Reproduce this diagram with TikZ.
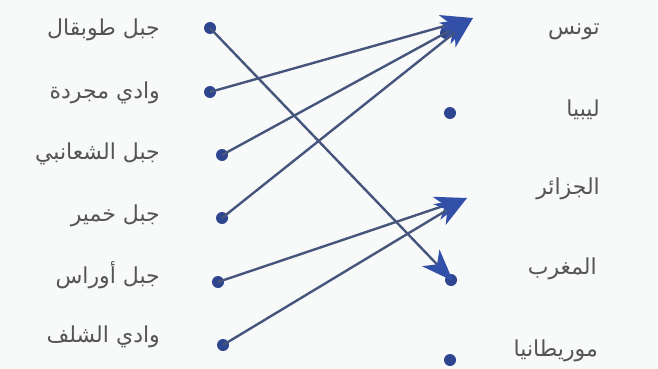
\documentclass[tikz,border=0pt]{standalone}
\usepackage{fontspec}
\newfontfamily\arabicfont[Script=Arabic]{DejaVu Sans}
\TeXXeTstate=1
\usetikzlibrary{arrows.meta}
\definecolor{dotblue}{HTML}{2E4690}
\definecolor{linecol}{HTML}{46557C}
\definecolor{headblue}{HTML}{3350A8}
\definecolor{txt}{HTML}{555555}
\definecolor{bg}{HTML}{F8F9F9}
\begin{document}
\begin{tikzpicture}[x=1pt,y=-1pt,
  dot/.style={circle,fill=dotblue,inner sep=0pt,minimum size=12pt},
  lbl/.style={font=\arabicfont\fontsize{22}{24}\selectfont,text=txt,inner sep=0pt},
  link/.style={draw=linecol,line width=2.4pt,-{Stealth[length=32pt,width=24pt,inset=9pt,fill=headblue,color=headblue]}}]
\useasboundingbox (0,0) rectangle (658,369);
\fill[bg] (0,0) rectangle (658,369);
% left dots
\node[dot] (l1) at (210,28) {};
\node[dot] (l2) at (210,92) {};
\node[dot] (l3) at (222,155) {};
\node[dot] (l4) at (222,218) {};
\node[dot] (l5) at (218,282) {};
\node[dot] (l6) at (223,345) {};
% right dots
\node[dot] (r1) at (446,33) {};
\node[dot] (r2) at (450,113) {};
\node[dot] (r3) at (450,208) {};
\node[dot] (r4) at (451,280) {};
\node[dot] (r5) at (450,360) {};
% arrow tips
\coordinate (t1) at (473,18);
\coordinate (t3) at (467,198);
\coordinate (t4) at (453,281);
% left labels
\node[lbl,anchor=east] (a1) at (160,30) {\beginR جبل طوبقال\endR};
\node[lbl,anchor=east] (a2) at (160,93) {\beginR وادي مجردة\endR};
\node[lbl,anchor=east] (a3) at (160,154) {\beginR جبل الشعانبي\endR};
\node[lbl,anchor=east] (a4) at (160,216) {\beginR جبل خمير\endR};
\node[lbl,anchor=east] (a5) at (160,275) {\beginR جبل أوراس\endR};
\node[lbl,anchor=east] (a6) at (160,337) {\beginR وادي الشلف\endR};
% right labels
\node[lbl,anchor=east] (b1) at (600,32) {\beginR تونس\endR};
\node[lbl,anchor=east] (b2) at (600,110) {\beginR ليبيا\endR};
\node[lbl,anchor=east] (b3) at (600,189) {\beginR الجزائر\endR};
\node[lbl,anchor=east] (b4) at (597,269) {\beginR المغرب\endR};
\node[lbl,anchor=east] (b5) at (598,351) {\beginR موريطانيا\endR};
% connectors
\draw[link] (l1.center) -- (t4);
\draw[link] (l2.center) -- (t1);
\draw[link] (l3.center) -- (t1);
\draw[link] (l4.center) -- (t1);
\draw[link] (l5.center) -- (t3);
\draw[link] (l6.center) -- (t3);
\end{tikzpicture}
\end{document}
